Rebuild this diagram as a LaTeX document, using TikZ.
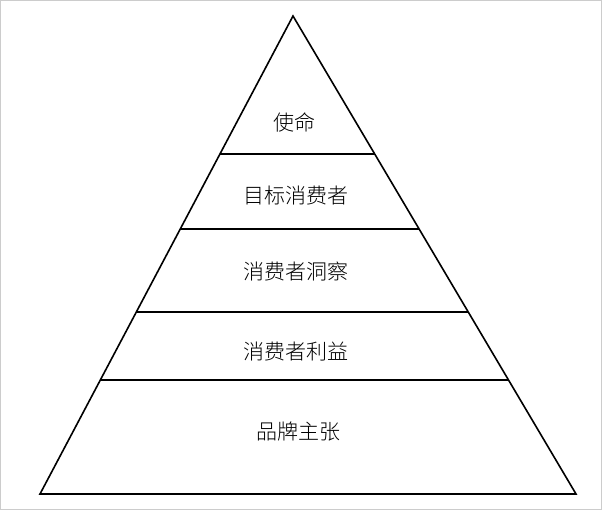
\documentclass[tikz,border=0pt]{standalone}
\usepackage{fontspec}
\newfontfamily\cjk{Noto Sans CJK SC Light}
\usetikzlibrary{calc}
\begin{document}
\begin{tikzpicture}[x=1pt,y=-1pt,line width=1.6pt,
  lbl/.style={font=\cjk\fontsize{21}{24}\selectfont,inner sep=0pt}]
\useasboundingbox (0,0) rectangle (602,510);
\draw[gray!40,line width=0.8pt] (0.5,0.5) rectangle (601.5,509.5);
\coordinate (A) at (293,16);
\coordinate (L) at (40,494);
\coordinate (R) at (576,494);
\draw[line join=miter] (A) -- (L) -- (R) -- cycle;
\foreach \t/\n in {0.2887/a,0.4456/b,0.6192/c,0.7615/d}{
  \coordinate (l\n) at ($(A)!\t!(L)$);
  \coordinate (r\n) at ($(A)!\t!(R)$);
  \draw (l\n) -- (r\n);
}
\node[lbl] (t1) at (294,122) {使命};
\node[lbl] (t2) at (296,196) {目标消费者};
\node[lbl] (t3) at (296,272) {消费者洞察};
\node[lbl] (t4) at (296,352) {消费者利益};
\node[lbl] (t5) at (298,432) {品牌主张};
\end{tikzpicture}
\end{document}
